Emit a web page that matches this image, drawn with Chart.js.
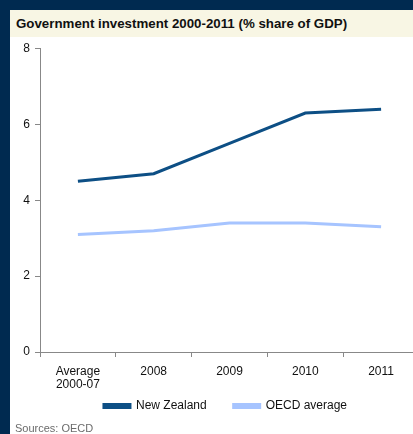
<!DOCTYPE html>
<html>
<head>
<meta charset="utf-8">
<script src="https://cdn.jsdelivr.net/npm/chart.js@4"></script>
<style>
  html, body { margin: 0; padding: 0; width: 413px; height: 434px; overflow: hidden; background: #fff; font-family: "Liberation Sans", Arial, sans-serif; }
  #navyLeft { position: absolute; left: 0; top: 0; width: 10px; height: 434px; background: #002a50; z-index: 2; }
  #navyTop { position: absolute; left: 0; top: 0; width: 413px; height: 10px; background: #002a50; z-index: 2; }
  #titulo { position: absolute; left: 10px; top: 10px; width: 403px; height: 27px; background: #f8f6e4; font-weight: bold; font-size: 13.3px; line-height: 27px; padding-left: 6px; box-sizing: border-box; color: #111; z-index: 2; }
  #caja { position: absolute; left: 10px; top: 37px; width: 431px; height: 406px; }
  #fuente { position: absolute; left: 15px; top: 422px; font-size: 11px; color: #6b6b6b; z-index: 2; }
</style>
</head>
<body>
<div id="navyLeft"></div>
<div id="navyTop"></div>
<div id="titulo">Government investment 2000-2011 (% share of GDP)</div>
<div id="caja"><canvas id="graficoDatos" width="431" height="406"></canvas></div>
<div id="fuente">Sources: OECD</div>
<script>
// Datos
const categorias = [['Average', '2000-07'], '2008', '2009', '2010', '2011'];
const nuevaZelanda = [4.5, 4.7, 5.5, 6.3, 6.4];
const promedioOCDE = [3.1, 3.2, 3.4, 3.4, 3.3];
const ticksY = [0, 2, 4, 6, 8];

const fuente = { family: '"Liberation Sans", Arial', size: 12, lineHeight: 1.1 };

// sube la leyenda para que quede pegada a las etiquetas del eje x
const subirLeyenda = {
    id: 'subirLeyenda',
    afterUpdate(chart) {
        const leyenda = chart.legend;
        if (leyenda) {
            leyenda.top -= 21;
            leyenda.bottom -= 21;
        }
    }
};

const ctx = document.getElementById('graficoDatos').getContext('2d');
const myChart = new Chart(ctx, {
    type: 'line',
    data: {
        labels: categorias,
        datasets: [{
            label: 'New Zealand',
            data: nuevaZelanda,
            borderColor: '#0d4f85',
            backgroundColor: '#0d4f85',
            borderWidth: 3,
            pointRadius: 0,
            tension: 0
        },
        {
            label: 'OECD average',
            data: promedioOCDE,
            borderColor: '#a6c4ff',
            backgroundColor: '#a6c4ff',
            borderWidth: 3,
            pointRadius: 0,
            tension: 0
        }]
    },
    plugins: [subirLeyenda],
    options: {
        responsive: false,
        animation: false,
        layout: { padding: { top: 11, right: 0, bottom: 0, left: 0 } },
        plugins: {
            tooltip: { enabled: false },
            legend: {
                position: 'bottom',
                labels: {
                    boxWidth: 26,
                    boxHeight: 3,
                    padding: 27,
                    color: '#111',
                    font: fuente
                }
            }
        },
        scales: {
            x: {
                offset: true,
                grid: { display: true, drawOnChartArea: false, drawTicks: true, tickLength: 5, color: '#888', offset: true },
                border: { display: true, color: '#888' },
                ticks: { color: '#111', padding: 8, maxRotation: 0, font: fuente },
                afterFit: (escala) => { escala.height = 42; }
            },
            y: {
                min: 0,
                max: 8,
                afterBuildTicks: (escala) => { escala.ticks = ticksY.map(v => ({ value: v })); },
                grid: { display: true, drawOnChartArea: false, drawTicks: true, tickLength: 5, color: '#888' },
                border: { display: true, color: '#888' },
                ticks: { color: '#111', padding: 5, font: fuente },
                afterFit: (escala) => { escala.width = 30; }
            },
            // eje vacío a la derecha, sólo para dejar el área del gráfico donde está en la imagen
            yDerecha: {
                position: 'right',
                display: true,
                grid: { display: false },
                border: { display: false },
                ticks: { display: false },
                afterFit: (escala) => { escala.width = 22; }
            }
        }
    }
});
</script>
</body>
</html>
